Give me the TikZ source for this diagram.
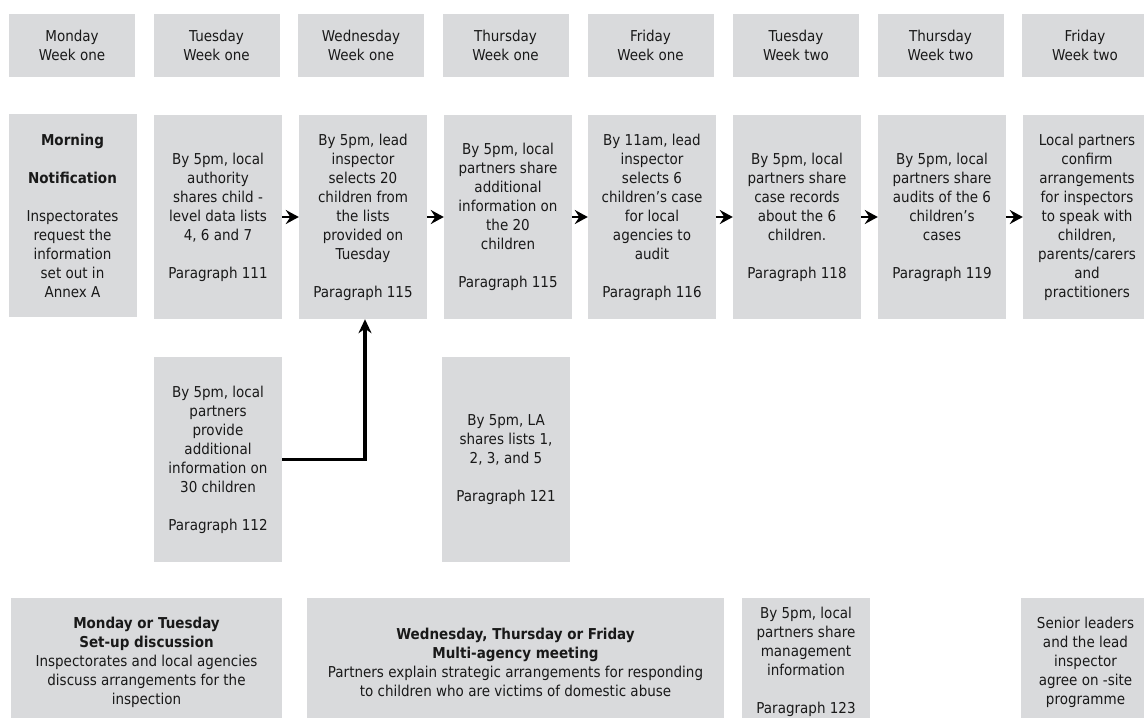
\documentclass[tikz,border=0pt]{standalone}
\usepackage{fontspec}
\setmainfont{DejaVu Sans}[FakeStretch=0.9]
\usetikzlibrary{arrows.meta}
\definecolor{boxgray}{RGB}{217,218,220}
\definecolor{txt}{RGB}{25,25,25}
\begin{document}
\begin{tikzpicture}[x=1pt,y=-1pt,
  box/.style={fill=boxgray, draw=none, inner sep=0pt, align=center, text=txt,
    font=\fontsize{15}{19}\selectfont},
  head/.style={box, minimum width=126pt, minimum height=63pt},
  mainbox/.style={box, minimum width=128pt, minimum height=204pt},
  lowbox/.style={box, minimum width=128pt, minimum height=205pt},
  botbox/.style={box, minimum height=128pt},
  flow/.style={line width=2.6pt, -{Stealth[length=13pt,width=14pt,inset=4.5pt]}},
  elbow/.style={line width=3.3pt, -{Stealth[length=14pt,width=13pt,inset=4.5pt]}}]
\useasboundingbox (0,0) rectangle (1144,718);
% headers
\node[head] (h1) at (72,45.5) {Monday\\Week one};
\node[head] (h2) at (216.5,45.5) {Tuesday\\Week one};
\node[head] (h3) at (361,45.5) {Wednesday\\Week one};
\node[head] (h4) at (505.5,45.5) {Thursday\\Week one};
\node[head] (h5) at (650.5,45.5) {Friday\\Week one};
\node[head] (h6) at (796,45.5) {Tuesday\\Week two};
\node[head] (h7) at (940.5,45.5) {Thursday\\Week two};
\node[head] (h8) at (1085,45.5) {Friday\\Week two};
% main row
\node[mainbox, minimum height=203pt] (mon) at (72.5,215.5) {\textbf{Morning}\\[19pt]\textbf{Notification}\\[19pt]Inspectorates\\request the\\information\\set out in\\Annex A};
\node[mainbox] (tue) at (218,217) {By 5pm, local\\authority\\shares child -\\level data lists\\4, 6 and 7\\[19pt]Paragraph 111};
\node[mainbox] (wed) at (363,217) {By 5pm, lead\\inspector\\selects 20\\children from\\the lists\\provided on\\Tuesday\\[19pt]Paragraph 115};
\node[mainbox] (thu) at (508,217) {By 5pm, local\\partners share\\additional\\information on\\the 20\\children\\[19pt]Paragraph 115};
\node[mainbox] (fri) at (652,217) {By 11am, lead\\inspector\\selects 6\\children’s case\\for local\\agencies to\\audit\\[19pt]Paragraph 116};
\node[mainbox] (tuetwo) at (797,217) {By 5pm, local\\partners share\\case records\\about the 6\\children.\\[19pt]Paragraph 118};
\node[mainbox] (thutwo) at (942,217) {By 5pm, local\\partners share\\audits of the 6\\children’s\\cases\\[19pt]Paragraph 119};
\node[mainbox] (fritwo) at (1087,217) {Local partners\\confirm\\arrangements\\for inspectors\\to speak with\\children,\\parents/carers\\and\\practitioners};
% lower row
\node[lowbox] (tuelow) at (218,459.5) {By 5pm, local\\partners\\provide\\additional\\information on\\30 children\\[19pt]Paragraph 112};
\node[lowbox] (thulow) at (506,459.5) {By 5pm, LA\\shares lists 1,\\2, 3, and 5\\[19pt]Paragraph 121};
% bottom row
\node[botbox, minimum width=271pt] (setup) at (146.5,662) {\textbf{Monday or Tuesday}\\\textbf{Set-up discussion}\\Inspectorates and local agencies\\discuss arrangements for the\\inspection};
\node[botbox, minimum width=417pt] (meet) at (515.5,662) {\textbf{Wednesday, Thursday or Friday}\\\textbf{Multi-agency meeting}\\Partners explain strategic arrangements for responding\\to children who are victims of domestic abuse};
\node[botbox, minimum width=128pt] (mgmt) at (806,662) {By 5pm, local\\partners share\\management\\information\\[19pt]Paragraph 123};
\node[botbox, minimum width=129pt] (senior) at (1085.5,662) {Senior leaders\\and the lead\\inspector\\agree on -site\\programme};
% connectors
\draw[flow] (tue.east) -- (wed.west);
\draw[flow] (wed.east) -- (thu.west);
\draw[flow] (thu.east) -- (fri.west);
\draw[flow] (fri.east) -- (tuetwo.west);
\draw[flow] (tuetwo.east) -- (thutwo.west);
\draw[flow] (thutwo.east) -- (fritwo.west);
\draw[elbow] (tuelow.east) -| ([xshift=2pt]wed.south);
\end{tikzpicture}
\end{document}
